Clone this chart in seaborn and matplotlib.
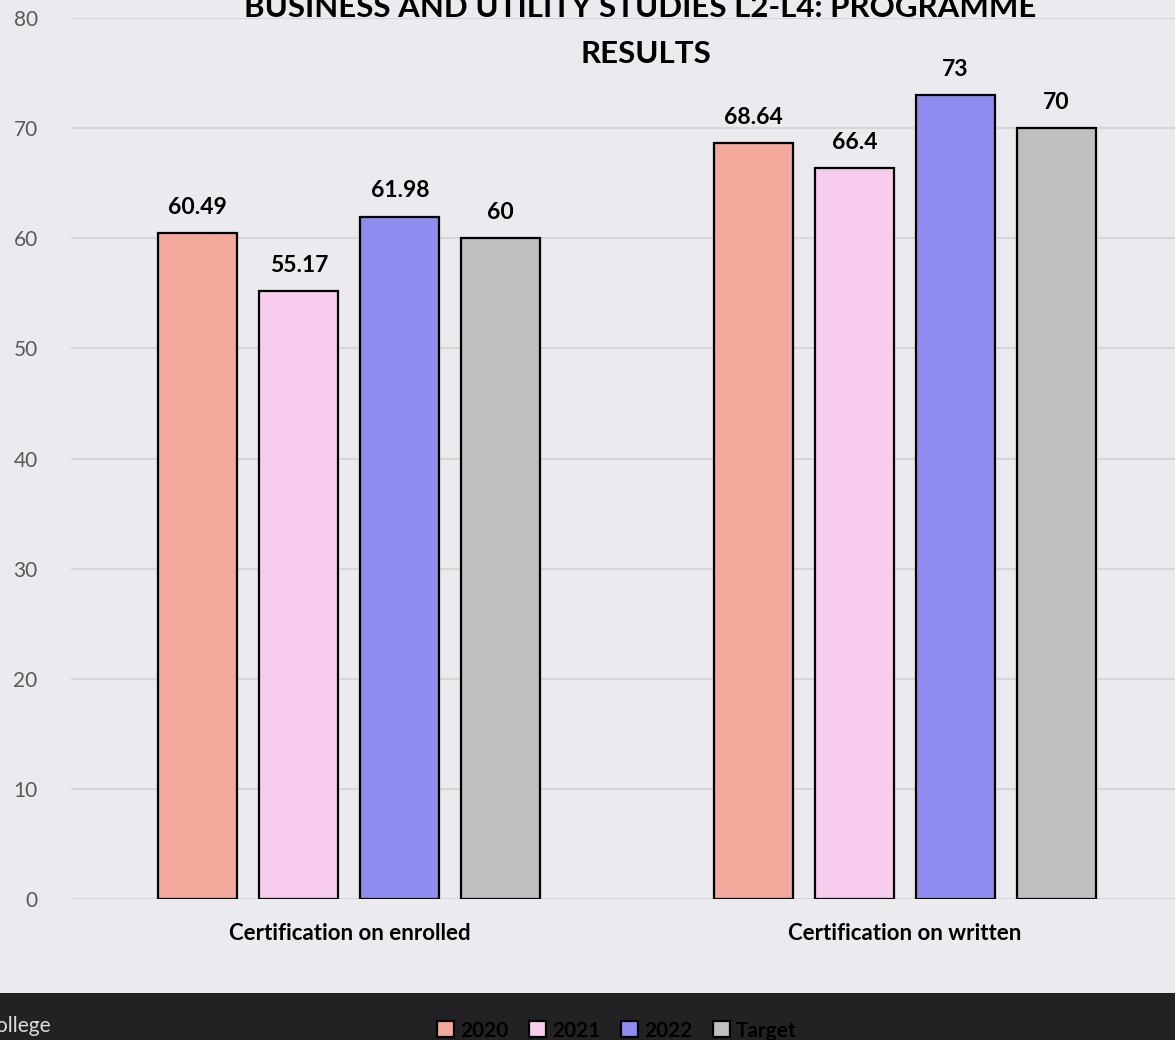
import numpy as np
import pandas as pd
import seaborn as sns
import matplotlib.pyplot as plt
from matplotlib.patches import Rectangle

# data
categories = ['Certification on enrolled', 'Certification on written']
years = ['2020', '2021', '2022', 'Target']
vals_2020 = [60.49, 68.64]
vals_2021 = [55.17, 66.4]
vals_2022 = [61.98, 73]
vals_target = [60, 70]
y_ticks = [0, 10, 20, 30, 40, 50, 60, 70, 80]

colors = ['#F2A89B', '#F7CCEC', '#8E8CEE', '#BFBFBF']

df = pd.DataFrame({
    'category': categories * 4,
    'series': [y for y in years for _ in categories],
    'value': vals_2020 + vals_2021 + vals_2022 + vals_target,
})

sns.set_style('white')
plt.rcParams['font.family'] = ['Lato', 'DejaVu Sans']
plt.rcParams['text.color'] = 'black'

fig = plt.figure(figsize=(11.75, 10.4), dpi=100)
fig.patch.set_facecolor('#EAEAEF')
# dark band at the bottom of the slide
fig.add_artist(Rectangle((0, 0), 1, 0.045, transform=fig.transFigure,
                         facecolor='#222225', edgecolor='none', zorder=0))

ax = fig.add_axes([0.0604, 0.1356, 0.9396, 0.847])
ax.set_facecolor('none')

sns.barplot(data=df, x='category', y='value', hue='series', palette=colors,
            width=0.727, gap=0.22, edgecolor='black', linewidth=1.6,
            saturation=1, ax=ax, legend=True, zorder=3)

for cont in ax.containers:
    ax.bar_label(cont, labels=[f'{v:g}' for v in cont.datavalues], padding=11,
                 fontsize=16.5, fontweight='bold', color='black')

ax.set_ylim(0, 80)
ax.set_xlim(-0.501, 1.486)
ax.set_yticks(y_ticks)
ax.yaxis.grid(True, color='#D6D6D8', linewidth=1.5, zorder=0)
ax.set_axisbelow(True)
for s in ax.spines.values():
    s.set_visible(False)
ax.tick_params(axis='y', length=0, pad=24, labelsize=15, labelcolor='#595959')
ax.tick_params(axis='x', length=0, pad=17, labelsize=16, labelcolor='black')
for lab in ax.get_xticklabels():
    lab.set_fontweight('bold')
ax.set_xlabel('')
ax.set_ylabel('')

leg = ax.get_legend()
handles = leg.legend_handles
leg.remove()
fig.legend(handles, years, loc='center', bbox_to_anchor=(0.525, 0.009),
           ncol=4, frameon=False, prop={'weight': 'bold', 'size': 15},
           labelcolor='black',
           handlelength=0.8, handleheight=0.8, handletextpad=0.3,
           columnspacing=1.0)

fig.text(0.545, 0.9837, 'BUSINESS AND UTILITY STUDIES L2-L4: PROGRAMME',
         ha='center', va='baseline', fontsize=22.5, fontweight='bold',
         color='black')
fig.text(0.55, 0.9394, 'RESULTS', ha='center', va='baseline',
         fontsize=22.5, fontweight='bold', color='black')
fig.text(0.043, 0.004, 'College', ha='right', va='bottom', fontsize=15,
         color='#DDDDDD')

fig.savefig('out.png', dpi=100, facecolor=fig.get_facecolor())
